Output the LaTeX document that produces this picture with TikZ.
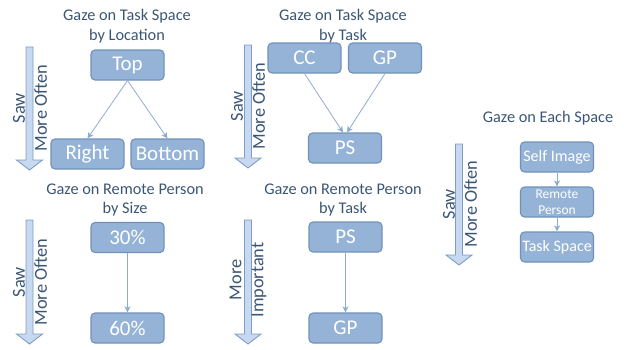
\documentclass[tikz,border=0pt]{standalone}
\usepackage{fontspec}
\setmainfont{Carlito}
\usetikzlibrary{arrows.meta}
\definecolor{boxfill}{HTML}{95B3D7}
\definecolor{boxline}{HTML}{7092BA}
\definecolor{titletext}{HTML}{3B5674}
\definecolor{linkcol}{HTML}{8FACCF}
\definecolor{bigfill}{HTML}{C6D9F0}
\definecolor{bigline}{HTML}{7F9DC3}
\tikzset{
  x=1pt, y=-1pt,
  box/.style={draw=boxline, line width=1.1pt, fill=boxfill, rounded corners=4pt,
    text=white, minimum width=73pt, minimum height=30pt, inner sep=0pt,
    font=\fontsize{21}{23}\selectfont},
  smallbox/.style={box, font=\fontsize{16}{17}\selectfont},
  tinybox/.style={box, font=\fontsize{13.5}{15.5}\selectfont},
  title/.style={text=titletext, align=center, font=\fontsize{16.3}{19.5}\selectfont, inner sep=0pt},
  side/.style={text=titletext, align=center, rotate=90, font=\fontsize{18.3}{22}\selectfont, inner sep=0pt},
  link/.style={draw=linkcol, line width=0.8pt, -{Stealth[length=6pt,width=6pt,inset=1.5pt]}},
  bigarrow/.style={draw=bigline, line width=0.9pt, fill=bigfill, line join=miter},
}
% downward block arrow: centre x, top y, tip y
\newcommand{\downarrowbar}[3]{%
  \path[bigarrow] (#1-3.5,#2) -- (#1+3.5,#2) -- (#1+3.5,#3-10) -- (#1+13,#3-10)
    -- (#1,#3) -- (#1-13,#3-10) -- (#1-3.5,#3-10) -- cycle;}
\begin{document}
\begin{tikzpicture}
\useasboundingbox (0,0) rectangle (624,349);

% ---- Task space by location
\node[title] (t1) at (127,26) {Gaze on Task Space\\by Location};
\downarrowbar{29.5}{47}{170}
\node[side] (s1) at (30,108) {Saw\\More Often};
\node[box] (top) at (127.5,65) {Top};
\node[box] (right) at (87.5,154) {Right};
\node[box] (bottom) at (167.5,154) {Bottom};
\draw[link] (top.south) -- (right.north);
\draw[link] (top.south) -- (bottom.north);

% ---- Task space by task
\node[title] (t2) at (343,26) {Gaze on Task Space\\by Task};
\downarrowbar{248}{45}{168}
\node[side] (s2) at (248,106) {Saw\\More Often};
\node[box] (cc) at (304.5,58) {CC};
\node[box] (gp) at (385,58) {GP};
\node[box] (ps) at (345,148) {PS};
\draw[link] (cc.south) -- ([xshift=-2pt]ps.north);
\draw[link] (gp.south) -- ([xshift=2pt]ps.north);

% ---- Remote person by size
\node[title] (t3) at (125,200) {Gaze on Remote Person\\by Size};
\downarrowbar{29.5}{220}{344}
\node[side] (s3) at (30,282) {Saw\\More Often};
\node[box] (p30) at (127.5,237.5) {30\%};
\node[box] (p60) at (127.5,328) {60\%};
\draw[link] (p30) -- (p60);

% ---- Remote person by task
\node[title] (t4) at (343,200) {Gaze on Remote Person\\by Task};
\downarrowbar{248}{220}{344}
\node[side] (s4) at (248,280) {More\\Important};
\node[box] (ps2) at (345.5,237) {PS};
\node[box] (gp2) at (345.5,328) {GP};
\draw[link] (ps2) -- (gp2);

% ---- Each space
\node[title] (t5) at (548,118) {Gaze on Each Space};
\downarrowbar{459}{144}{265}
\node[side] (s5) at (460,204) {Saw\\More Often};
\node[smallbox] (self) at (557,157) {Self Image};
\node[tinybox, align=center] (remote) at (557,202) {Remote\\Person};
\node[smallbox] (task) at (557,247) {Task Space};
\draw[link] (self) -- (remote);
\draw[link] (remote) -- (task);
\end{tikzpicture}
\end{document}
